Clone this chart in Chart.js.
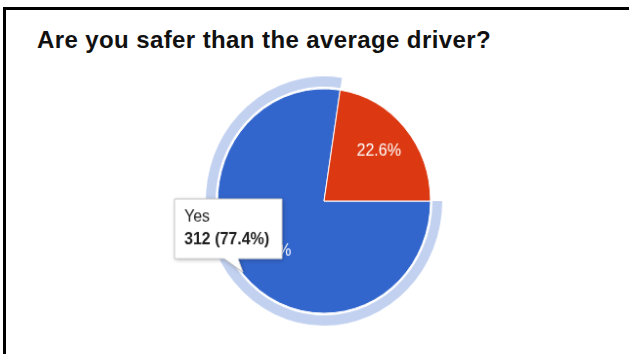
<!DOCTYPE html>
<html>
<head>
<meta charset="utf-8">
<script src="https://cdn.jsdelivr.net/npm/chart.js@4/dist/chart.umd.min.js"></script>
<style>
	html, body { margin: 0; padding: 0; background: #fff; }
	body { width: 629px; height: 354px; position: relative; overflow: hidden; }
	#frame {
		position: absolute; left: 3px; top: 7px; right: 0; bottom: 0;
		border-left: 3px solid #000; border-top: 3px solid #000;
	}
	#title {
		position: absolute; left: 37px; top: 29px;
		font: bold 24px "Liberation Sans", Arial, sans-serif; line-height: 22px;
		letter-spacing: 0.4px;
		color: #111; white-space: nowrap;
	}
	#wrap {
		position: absolute; left: 0; top: 0; width: 629px; height: 354px;
		transform-origin: 324px 201px;
		transform: scale(0.977, 1.03);
	}
</style>
</head>
<body>
<div id="frame"></div>
<div id="title">Are you safer than the average driver?</div>
<div id="wrap"><canvas id="pie"></canvas></div>
<script>
// answers and counts
const answers = ['Yes', 'No'];
const counts = [312, 91];
const sliceColors = ['#3366cc', '#dc3912'];
// highlight ring shown round the hovered slice (Yes)
const ringColors = ['#c2d1f0', 'rgba(0,0,0,0)'];

const total = counts.reduce((a, b) => a + b, 0);
const pct = (v) => (v / total * 100).toFixed(1) + '%';

//draws the percent text inside each slice
const sliceLabels = {
	id: 'sliceLabels',
	afterDatasetsDraw(chart) {
		const ctx = chart.ctx;
		const meta = chart.getDatasetMeta(2);
		ctx.save();
		ctx.fillStyle = '#fff';
		ctx.font = '16px "Liberation Sans", Arial, sans-serif';
		ctx.textAlign = 'center';
		ctx.textBaseline = 'middle';
		meta.data.forEach((arc, i) => {
			const p = arc.getProps(['x', 'y', 'startAngle', 'endAngle', 'outerRadius'], true);
			const mid = (p.startAngle + p.endAngle) / 2;
			const r = p.outerRadius * 0.68;
			ctx.fillText(pct(counts[i]), p.x + Math.cos(mid) * r, p.y + Math.sin(mid) * r);
		});
		ctx.restore();
	},
};

//google style tooltip box for the Yes slice
const hoverBox = {
	id: 'hoverBox',
	afterDraw(chart) {
		const ctx = chart.ctx;
		const x0 = 171, y0 = 199, x1 = 281, y1 = 257;
		ctx.save();
		ctx.beginPath();
		ctx.moveTo(x0, y0);
		ctx.lineTo(x1, y0);
		ctx.lineTo(x1, y1);
		ctx.lineTo(236, y1);
		ctx.lineTo(241, 270);
		ctx.lineTo(222, y1);
		ctx.lineTo(x0, y1);
		ctx.closePath();
		ctx.shadowColor = 'rgba(0,0,0,0.3)';
		ctx.shadowBlur = 4;
		ctx.shadowOffsetX = 1;
		ctx.shadowOffsetY = 1;
		ctx.fillStyle = '#fff';
		ctx.fill();
		ctx.shadowColor = 'rgba(0,0,0,0)';
		ctx.strokeStyle = '#c8c8c8';
		ctx.lineWidth = 1;
		ctx.stroke();

		ctx.fillStyle = '#222';
		ctx.textAlign = 'left';
		ctx.textBaseline = 'alphabetic';
		ctx.font = '16px "Liberation Sans", Arial, sans-serif';
		ctx.fillText(answers[0], 181, 221);
		ctx.font = 'bold 16px "Liberation Sans", Arial, sans-serif';
		ctx.fillText(`${counts[0]} (${pct(counts[0])})`, 181, 243);
		ctx.restore();
	},
};

const chart = new Chart(document.getElementById('pie'), {
	type: 'pie',
	data: {
		labels: answers,
		datasets: [{
			data: counts,
			backgroundColor: ringColors,
			borderWidth: 0,
			weight: 10,
		}, {
			data: counts,
			backgroundColor: ['rgba(0,0,0,0)', 'rgba(0,0,0,0)'],
			borderWidth: 0,
			weight: 2,
		}, {
			data: counts,
			backgroundColor: sliceColors,
			borderColor: '#fff',
			borderWidth: 1,
			weight: 109,
		}],
	},
	options: {
		responsive: true,
		maintainAspectRatio: false,
		animation: false,
		events: [],
		rotation: 90,
		radius: 121,
		layout: { padding: { left: 19, right: 0, top: 48, bottom: 0 } },
		plugins: {
			legend: { display: false },
			tooltip: { enabled: false },
		},
	},
	plugins: [sliceLabels, hoverBox],
});
</script>
</body>
</html>
